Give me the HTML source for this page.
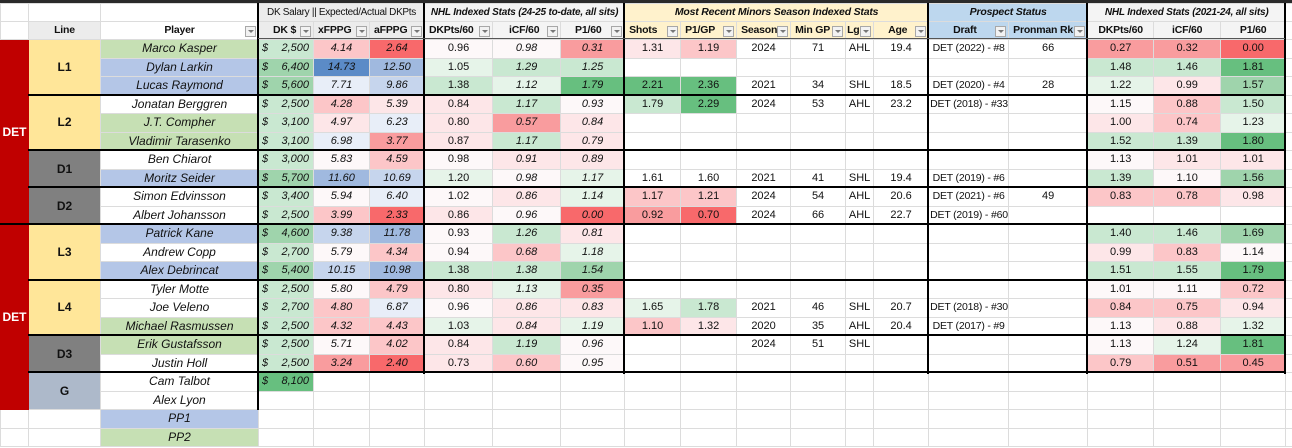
<!DOCTYPE html>
<html><head><meta charset="utf-8">
<style>
*{box-sizing:border-box;margin:0;padding:0}
body{width:1292px;height:448px;overflow:hidden;background:#fff;font-family:"Liberation Sans",Arial,sans-serif;font-size:11px;color:#111;position:relative}
table{position:absolute;left:0;top:3px;border-collapse:collapse;table-layout:fixed;width:1292px}
td{border:1px solid #dcdcdc;white-space:nowrap;overflow:hidden;text-align:center;padding:0 1px;position:relative;line-height:15px}
tr.d td{height:18.5px}
tr.h1 td{height:18px;font-size:10.5px;letter-spacing:-0.2px}
tr.h2 td{height:18px;font-size:10.5px;letter-spacing:-0.2px;text-align:left;padding-left:4px}
.it{font-style:italic}
.b{font-weight:bold}
.pn{font-size:12px}
.sm{font-size:10.5px;letter-spacing:-0.2px}
.r3{background:#f8696b}.r2{background:#f99c9e}.r1{background:#fcc6c8}.r0{background:#fde6e8}.w{background:#fdf8f9}
.g0{background:#e6f4e9}.g1{background:#c9e8d1}.g2{background:#9fd4ac}.g3{background:#67bf7f}
.b0{background:#e8eef8}.b1{background:#c6d5ed}.b2{background:#a0b9df}.b3{background:#5b8bc7}
.pg{background:#c6e0b4}.pb{background:#b4c6e7}
.yl{background:#ffe699;font-weight:bold;font-size:12px}
.gr{background:#808080;font-weight:bold;font-size:12px}
.gb{background:#adb9ca;font-weight:bold;font-size:12px}
.det{background:#c00000;color:#fff;font-weight:bold;font-size:12px;border-color:#c00000}
.dk{text-align:right;padding-right:4px}
.dk span{float:left;padding-left:2px}
.hg{background:#ececec}.hn{background:#f4f4f4}.hm{background:#fff2cc}.hp{background:#bdd7ee}
.f{position:absolute;right:2px;top:4px;width:11px;height:11px;border:1px solid #a8a8a8;background:#f2f2f2}
.f:after{content:"";position:absolute;left:2px;top:3px;border-left:3px solid transparent;border-right:3px solid transparent;border-top:3px solid #777}
.hh td{font-weight:bold}
tr.h2 td.cc{text-align:center;padding-left:1px}
.ln{position:absolute;background:#000}
</style></head><body>
<div class="ln" style="left:0;top:0;width:1292px;height:3px;background:#2a2a2a"></div>
<table>
<colgroup>
<col style="width:28px"><col style="width:72px"><col style="width:158px"><col style="width:55px"><col style="width:56px"><col style="width:55px"><col style="width:68px"><col style="width:68px"><col style="width:64px"><col style="width:56px"><col style="width:56px"><col style="width:54px"><col style="width:55px"><col style="width:28px"><col style="width:55px"><col style="width:80px"><col style="width:79px"><col style="width:66px"><col style="width:67px"><col style="width:65px"><col style="width:7px">
</colgroup>
<tr class="h1"><td></td><td></td><td></td><td colspan="3" class="hg" style="font-size:10px;letter-spacing:-0.3px">DK Salary || Expected/Actual DKPts</td><td colspan="3" class="hn b it" style="font-size:10px">NHL Indexed Stats (24-25 to-date, all sits)</td><td colspan="6" class="hm b it">Most Recent Minors Season Indexed Stats</td><td colspan="2" class="hp b it">Prospect Status</td><td colspan="3" class="hn b it" style="font-size:10px">NHL Indexed Stats (2021-24, all sits)</td><td></td></tr>
<tr class="h2 hh"><td></td><td class="cc" style="background:#ececec">Line</td><td class="cc">Player<span class="f"></span></td><td class="hg" style="padding-left:14px">DK $<span class="f"></span></td><td class="hg">xFPPG<span class="f"></span></td><td class="hg">aFPPG<span class="f"></span></td><td class="hn">DKPts/60<span class="f"></span></td><td class="hn" style="padding-left:16px">iCF/60<span class="f"></span></td><td class="hn" style="padding-left:14px">P1/60<span class="f"></span></td><td class="hm">Shots<span class="f"></span></td><td class="hm">P1/GP<span class="f"></span></td><td class="hm">Season<span class="f"></span></td><td class="hm">Min GP<span class="f"></span></td><td class="hm" style="padding-left:1px">Lg<span class="f"></span></td><td class="hm" style="padding-left:14px">Age<span class="f"></span></td><td class="hp" style="padding-left:24px">Draft<span class="f"></span></td><td class="hp">Pronman Rk<span class="f"></span></td><td class="hn cc">DKPts/60</td><td class="hn cc">iCF/60</td><td class="hn cc">P1/60</td><td></td></tr>

<tr class="d"><td rowspan="10" class="det">DET</td><td rowspan="3" class="yl">L1</td><td class="pg it pn">Marco Kasper</td><td class="dk it g1"><span>$</span>2,500</td><td class="it r1">4.14</td><td class="it r3">2.64</td><td class="w">0.96</td><td class="it w">0.98</td><td class="it r2">0.31</td><td class="r0">1.31</td><td class="r1">1.19</td><td>2024</td><td>71</td><td>AHL</td><td>19.4</td><td class="sm">DET (2022) - #8</td><td>66</td><td class="r2">0.27</td><td class="r2">0.32</td><td class="r3">0.00</td><td></td></tr>
<tr class="d"><td class="pb it pn">Dylan Larkin</td><td class="dk it g2"><span>$</span>6,400</td><td class="it b3">14.73</td><td class="it b2">12.50</td><td class="g0">1.05</td><td class="it g1">1.29</td><td class="it g1">1.25</td><td></td><td></td><td></td><td></td><td></td><td></td><td></td><td></td><td class="g1">1.48</td><td class="g1">1.46</td><td class="g3">1.81</td><td></td></tr>
<tr class="d"><td class="pb it pn">Lucas Raymond</td><td class="dk it g2"><span>$</span>5,600</td><td class="it b0">7.71</td><td class="it b1">9.86</td><td class="g1">1.38</td><td class="it g0">1.12</td><td class="it g3">1.79</td><td class="g3">2.21</td><td class="g3">2.36</td><td>2021</td><td>34</td><td>SHL</td><td>18.5</td><td class="sm">DET (2020) - #4</td><td>28</td><td class="g0">1.22</td><td class="r0">0.99</td><td class="g2">1.57</td><td></td></tr>
<tr class="d"><td rowspan="3" class="yl">L2</td><td class="it pn">Jonatan Berggren</td><td class="dk it g1"><span>$</span>2,500</td><td class="it r1">4.28</td><td class="it r0">5.39</td><td class="r0">0.84</td><td class="it g1">1.17</td><td class="it w">0.93</td><td class="g1">1.79</td><td class="g3">2.29</td><td>2024</td><td>53</td><td>AHL</td><td>23.2</td><td class="sm">DET (2018) - #33</td><td></td><td class="w">1.15</td><td class="r1">0.88</td><td class="g1">1.50</td><td></td></tr>
<tr class="d"><td class="pg it pn">J.T. Compher</td><td class="dk it g1"><span>$</span>3,100</td><td class="it r0">4.97</td><td class="it b0">6.23</td><td class="r0">0.80</td><td class="it r2">0.57</td><td class="it r0">0.84</td><td></td><td></td><td></td><td></td><td></td><td></td><td></td><td></td><td class="r0">1.00</td><td class="r1">0.74</td><td class="g0">1.23</td><td></td></tr>
<tr class="d"><td class="pg it pn">Vladimir Tarasenko</td><td class="dk it g1"><span>$</span>3,100</td><td class="it b0">6.98</td><td class="it r2">3.77</td><td class="r0">0.87</td><td class="it g1">1.17</td><td class="it r0">0.79</td><td></td><td></td><td></td><td></td><td></td><td></td><td></td><td></td><td class="g1">1.52</td><td class="g1">1.39</td><td class="g3">1.80</td><td></td></tr>
<tr class="d"><td rowspan="2" class="gr">D1</td><td class="it pn">Ben Chiarot</td><td class="dk it g1"><span>$</span>3,000</td><td class="it w">5.83</td><td class="it r1">4.59</td><td class="w">0.98</td><td class="it r0">0.91</td><td class="it r0">0.89</td><td></td><td></td><td></td><td></td><td></td><td></td><td></td><td></td><td class="w">1.13</td><td class="r0">1.01</td><td class="r0">1.01</td><td></td></tr>
<tr class="d"><td class="pb it pn">Moritz Seider</td><td class="dk it g2"><span>$</span>5,700</td><td class="it b2">11.60</td><td class="it b1">10.69</td><td class="g0">1.20</td><td class="it w">0.98</td><td class="it g0">1.17</td><td>1.61</td><td>1.60</td><td>2021</td><td>41</td><td>SHL</td><td>19.4</td><td class="sm">DET (2019) - #6</td><td></td><td class="g1">1.39</td><td class="w">1.10</td><td class="g2">1.56</td><td></td></tr>
<tr class="d"><td rowspan="2" class="gr">D2</td><td class="it pn">Simon Edvinsson</td><td class="dk it g1"><span>$</span>3,400</td><td class="it w">5.94</td><td class="it b0">6.40</td><td class="w">1.02</td><td class="it r0">0.86</td><td class="it g0">1.14</td><td class="r1">1.17</td><td class="r1">1.21</td><td>2024</td><td>54</td><td>AHL</td><td>20.6</td><td class="sm">DET (2021) - #6</td><td>49</td><td class="r1">0.83</td><td class="r1">0.78</td><td class="r0">0.98</td><td></td></tr>
<tr class="d"><td class="it pn">Albert Johansson</td><td class="dk it g1"><span>$</span>2,500</td><td class="it r1">3.99</td><td class="it r3">2.33</td><td class="r0">0.86</td><td class="it w">0.96</td><td class="it r3">0.00</td><td class="r2">0.92</td><td class="r3">0.70</td><td>2024</td><td>66</td><td>AHL</td><td>22.7</td><td class="sm">DET (2019) - #60</td><td></td><td></td><td></td><td></td><td></td></tr>

<tr class="d"><td rowspan="10" class="det">DET</td><td rowspan="3" class="yl">L3</td><td class="pb it pn">Patrick Kane</td><td class="dk it g2"><span>$</span>4,600</td><td class="it b1">9.38</td><td class="it b2">11.78</td><td class="w">0.93</td><td class="it g1">1.26</td><td class="it r0">0.81</td><td></td><td></td><td></td><td></td><td></td><td></td><td></td><td></td><td class="g1">1.40</td><td class="g1">1.46</td><td class="g2">1.69</td><td></td></tr>
<tr class="d"><td class="it pn">Andrew Copp</td><td class="dk it g1"><span>$</span>2,700</td><td class="it w">5.79</td><td class="it r1">4.34</td><td class="w">0.94</td><td class="it r1">0.68</td><td class="it g0">1.18</td><td></td><td></td><td></td><td></td><td></td><td></td><td></td><td></td><td class="r0">0.99</td><td class="r1">0.83</td><td class="w">1.14</td><td></td></tr>
<tr class="d"><td class="pb it pn">Alex Debrincat</td><td class="dk it g2"><span>$</span>5,400</td><td class="it b1">10.15</td><td class="it b2">10.98</td><td class="g1">1.38</td><td class="it g1">1.38</td><td class="it g2">1.54</td><td></td><td></td><td></td><td></td><td></td><td></td><td></td><td></td><td class="g1">1.51</td><td class="g1">1.55</td><td class="g3">1.79</td><td></td></tr>
<tr class="d"><td rowspan="3" class="yl">L4</td><td class="it pn">Tyler Motte</td><td class="dk it g1"><span>$</span>2,500</td><td class="it w">5.80</td><td class="it r1">4.79</td><td class="r0">0.80</td><td class="it g0">1.13</td><td class="it r2">0.35</td><td></td><td></td><td></td><td></td><td></td><td></td><td></td><td></td><td class="w">1.01</td><td class="w">1.11</td><td class="r1">0.72</td><td></td></tr>
<tr class="d"><td class="it pn">Joe Veleno</td><td class="dk it g1"><span>$</span>2,700</td><td class="it r1">4.80</td><td class="it b0">6.87</td><td class="w">0.96</td><td class="it r0">0.86</td><td class="it r0">0.83</td><td class="g0">1.65</td><td class="g1">1.78</td><td>2021</td><td>46</td><td>SHL</td><td>20.7</td><td class="sm">DET (2018) - #30</td><td></td><td class="r1">0.84</td><td class="r1">0.75</td><td class="r0">0.94</td><td></td></tr>
<tr class="d"><td class="pg it pn">Michael Rasmussen</td><td class="dk it g1"><span>$</span>2,500</td><td class="it r1">4.32</td><td class="it r1">4.43</td><td class="g0">1.03</td><td class="it r0">0.84</td><td class="it g0">1.19</td><td class="r1">1.10</td><td class="r0">1.32</td><td>2020</td><td>35</td><td>AHL</td><td>20.4</td><td class="sm">DET (2017) - #9</td><td></td><td class="w">1.13</td><td class="r0">0.88</td><td class="g0">1.32</td><td></td></tr>
<tr class="d"><td rowspan="2" class="gr">D3</td><td class="pg it pn">Erik Gustafsson</td><td class="dk it g1"><span>$</span>2,500</td><td class="it w">5.71</td><td class="it r1">4.02</td><td class="r0">0.84</td><td class="it g1">1.19</td><td class="it w">0.96</td><td></td><td></td><td>2024</td><td>51</td><td>SHL</td><td></td><td></td><td></td><td class="w">1.13</td><td class="g0">1.24</td><td class="g3">1.81</td><td></td></tr>
<tr class="d"><td class="it pn">Justin Holl</td><td class="dk it g1"><span>$</span>2,500</td><td class="it r2">3.24</td><td class="it r3">2.40</td><td class="r0">0.73</td><td class="it r1">0.60</td><td class="it w">0.95</td><td></td><td></td><td></td><td></td><td></td><td></td><td></td><td></td><td class="r1">0.79</td><td class="r2">0.51</td><td class="r2">0.45</td><td></td></tr>
<tr class="d"><td rowspan="2" class="gb">G</td><td class="it pn">Cam Talbot</td><td class="dk it g3"><span>$</span>8,100</td><td></td><td></td><td></td><td></td><td></td><td></td><td></td><td></td><td></td><td></td><td></td><td></td><td></td><td></td><td></td><td></td><td></td></tr>
<tr class="d"><td class="it pn">Alex Lyon</td><td></td><td></td><td></td><td></td><td></td><td></td><td></td><td></td><td></td><td></td><td></td><td></td><td></td><td></td><td></td><td></td><td></td><td></td></tr>
<tr class="d"><td></td><td></td><td class="pb it pn">PP1</td><td></td><td></td><td></td><td></td><td></td><td></td><td></td><td></td><td></td><td></td><td></td><td></td><td></td><td></td><td></td><td></td><td></td><td></td></tr>
<tr class="d"><td></td><td></td><td class="pg it pn">PP2</td><td></td><td></td><td></td><td></td><td></td><td></td><td></td><td></td><td></td><td></td><td></td><td></td><td></td><td></td><td></td><td></td><td></td><td></td></tr>
</table>

<div class="ln" style="left:257px;top:3px;width:2px;height:407px"></div>
<div class="ln" style="left:423px;top:3px;width:2px;height:371px"></div>
<div class="ln" style="left:623px;top:3px;width:2px;height:371px"></div>
<div class="ln" style="left:927px;top:3px;width:2px;height:371px"></div>
<div class="ln" style="left:1086px;top:3px;width:2px;height:371px"></div>
<div class="ln" style="left:1284px;top:3px;width:2px;height:371px"></div>
<div class="ln" style="left:258px;top:38px;width:1027px;height:1px;background:#555"></div>
<div class="ln" style="left:28px;top:94px;width:1257px;height:2px"></div>
<div class="ln" style="left:28px;top:149px;width:1257px;height:2px"></div>
<div class="ln" style="left:28px;top:186px;width:1257px;height:2px"></div>
<div class="ln" style="left:0;top:223px;width:1285px;height:2px"></div>
<div class="ln" style="left:28px;top:279px;width:1257px;height:2px"></div>
<div class="ln" style="left:28px;top:334px;width:1257px;height:2px"></div>
<div class="ln" style="left:28px;top:371px;width:1257px;height:2px"></div>
</body></html>
